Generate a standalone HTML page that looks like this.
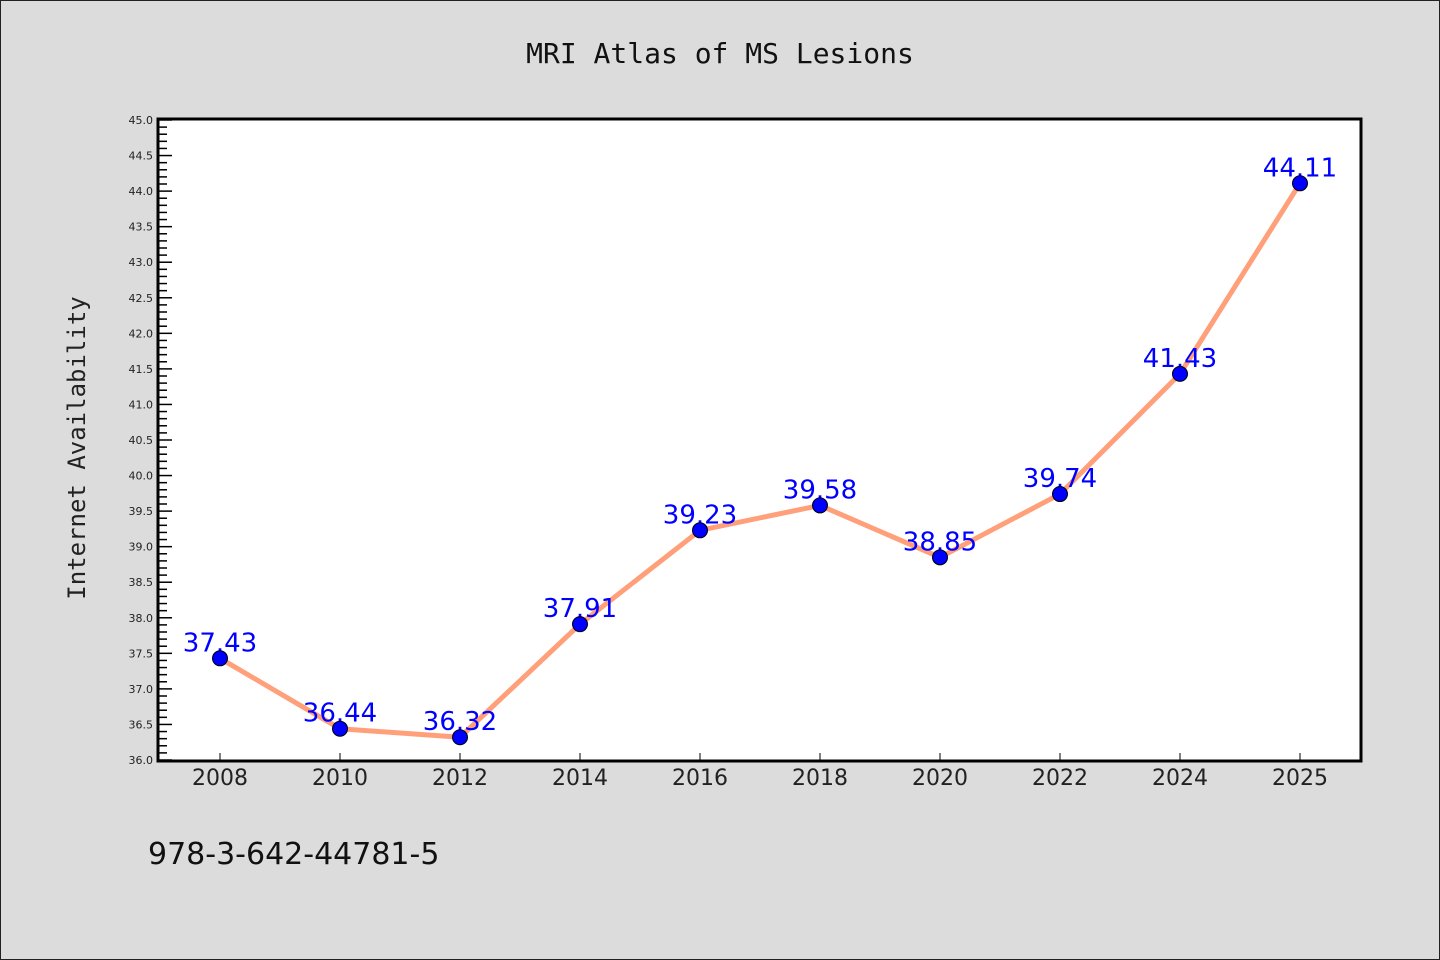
<!DOCTYPE html>
<html><head><meta charset="utf-8"><style>
html,body{margin:0;padding:0;background:#dcdcdc;}
svg{display:block;font-family:"DejaVu Sans","Liberation Sans",sans-serif;}
</style></head><body>
<svg id="chart" width="1440" height="960" viewBox="0 0 1440 960" xmlns="http://www.w3.org/2000/svg">
<rect x="0.5" y="0.5" width="1439" height="959" fill="#dcdcdc" stroke="#222" stroke-width="1"/>
<text x="720" y="63" text-anchor="middle" font-size="28" font-family="'DejaVu Sans Mono','Liberation Mono',monospace" fill="#111">MRI Atlas of MS Lesions</text>
<rect x="158" y="119" width="1203" height="642" fill="#fff" stroke="#000" stroke-width="3"/>
<g id="yaxis"></g>
<g id="xaxis"></g>
<g id="series"></g>
<text transform="translate(85,448) rotate(-90)" text-anchor="middle" font-size="24" font-family="'DejaVu Sans Mono','Liberation Mono',monospace" fill="#222">Internet Availability</text>
<text x="148" y="864" font-size="30" fill="#111">978-3-642-44781-5</text>
</svg>
<script>
const categories=["2008","2010","2012","2014","2016","2018","2020","2022","2024","2025"];
const values=[37.43,36.44,36.32,37.91,39.23,39.58,38.85,39.74,41.43,44.11];
const valueLabels=["37.43","36.44","36.32","37.91","39.23","39.58","38.85","39.74","41.43","44.11"];
const yMin=36.0,yMax=45.0;
const NS="http://www.w3.org/2000/svg";
function y(v){return 760-(v-yMin)/(yMax-yMin)*640;}
function x(i){return 220+i*120;}
function mk(tag,attrs,parent){const e=document.createElementNS(NS,tag);for(const k in attrs)e.setAttribute(k,attrs[k]);parent.appendChild(e);return e;}
const ya=document.getElementById('yaxis');
for(let k=0;k<=90;k++){
  const v=yMin+k*0.1;const yy=y(v);const major=k%5===0;
  const t=mk('line',{x1:159,x2:159+(major?13:8),y1:yy,y2:yy,stroke:'#000','stroke-width':1.5},ya);
  
  
  if(major){
    const l=mk('text',{x:153,y:yy+4,'text-anchor':'end','font-size':11,fill:'#222'},ya);
    
    
    l.textContent=v.toFixed(1);
  }
}
const xa=document.getElementById('xaxis');
categories.forEach((c,i)=>{
  const t=mk('line',{x1:x(i),x2:x(i),y1:760,y2:753,stroke:'#000','stroke-width':1},xa);
  
  
  const l=mk('text',{x:x(i),y:785,'text-anchor':'middle','font-size':22,fill:'#222'},xa);
  
  
  l.textContent=c;
});
const s=document.getElementById('series');
const pts=values.map((v,i)=>x(i)+','+y(v)).join(' ');
const pl=mk('polyline',{points:pts,fill:'none',stroke:'#ffa07a','stroke-width':5,'stroke-linejoin':'round'},s);


values.forEach((v,i)=>{
  const l=mk('text',{x:x(i),y:y(v)-7,'text-anchor':'middle','font-size':26,fill:'#0000ff'},s);
  
  
  l.textContent=valueLabels[i];
});
values.forEach((v,i)=>{
  const c=mk('circle',{cx:x(i),cy:y(v),r:7.5,fill:'#0000ff',stroke:'#000','stroke-width':1},s);
  
  
});
</script>
</body></html>
